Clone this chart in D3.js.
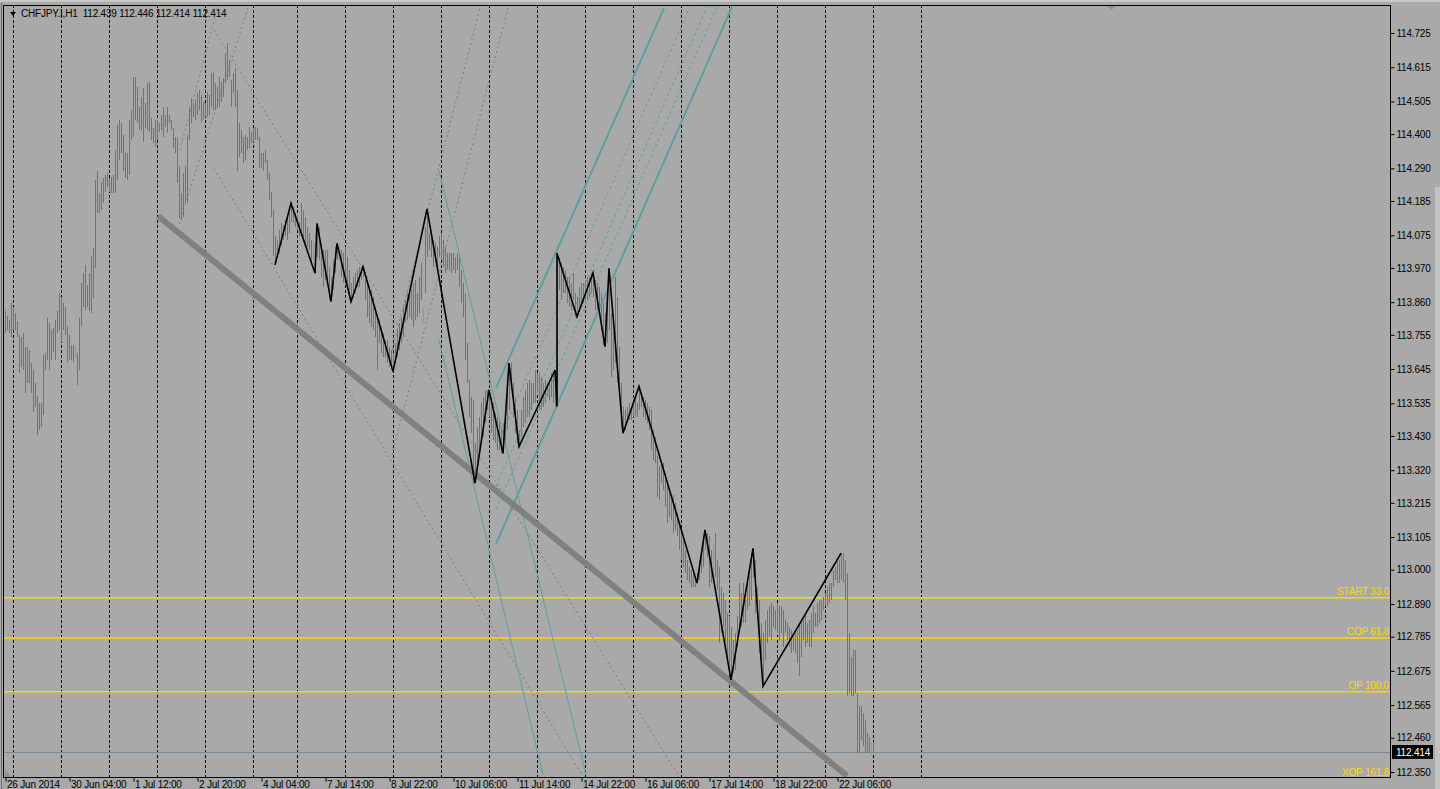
<!DOCTYPE html>
<html>
<head>
<meta charset="utf-8">
<title>CHFJPY.I,H1</title>
<script src="https://d3js.org/d3.v7.min.js"></script>
<style>
    body { margin: 0; background: #a9a9a9; overflow: hidden; }
    text { font-family: "Liberation Sans", Arial, sans-serif; font-size: 10px; letter-spacing: -0.2px; }
</style>
</head>
<body>
<div id="chart"></div>
<script>
// ---- data: H1 bars (high / low), index 0 = 26 Jun 2014 20:00 ----
const highs = [
    113.830, 113.814, 113.803, 113.856, 113.846, 113.824, 113.798, 113.755, 113.749, 113.760,
    113.717, 113.717, 113.706, 113.664, 113.642, 113.599, 113.557, 113.535, 113.535, 113.690,
    113.696, 113.808, 113.792, 113.771, 113.776, 113.803, 113.830, 113.889, 113.878, 113.856,
    113.846, 113.782, 113.755, 113.723, 113.723, 113.717, 113.696, 113.808, 113.921, 113.953,
    113.980, 113.915, 113.953, 114.007, 114.033, 114.253, 114.280, 114.210, 114.247, 114.258,
    114.269, 114.274, 114.258, 114.263, 114.269, 114.349, 114.430, 114.446, 114.435, 114.397,
    114.344, 114.338, 114.446, 114.478, 114.585, 114.585, 114.553, 114.488, 114.520, 114.547,
    114.499, 114.563, 114.569, 114.451, 114.419, 114.446, 114.446, 114.435, 114.462, 114.488,
    114.462, 114.488, 114.462, 114.446, 114.419, 114.392, 114.387, 114.296, 114.210, 114.274,
    114.296, 114.397, 114.488, 114.515, 114.499, 114.510, 114.531, 114.542, 114.526, 114.504,
    114.499, 114.536, 114.526, 114.595, 114.601, 114.563, 114.553, 114.585, 114.569, 114.579,
    114.660, 114.692, 114.638, 114.574, 114.595, 114.611, 114.542, 114.435, 114.414, 114.392,
    114.397, 114.392, 114.424, 114.408, 114.419, 114.424, 114.419, 114.392, 114.338, 114.338,
    114.349, 114.317, 114.274, 114.215, 114.156, 114.071, 114.060, 114.092, 114.113, 114.108,
    114.124, 114.140, 114.151, 114.178, 114.167, 114.146, 114.140, 114.119,
    114.178, 114.156, 114.135, 114.103, 114.081, 114.060, 114.049, 114.028, 114.113, 114.103,
    114.049, 114.028, 114.028, 114.028, 113.974, 113.942, 113.996, 114.038, 114.049, 114.049,
    114.028, 114.017, 114.038, 114.006, 113.963, 113.921, 113.942, 113.953, 113.963, 113.974,
    113.974, 113.974, 113.953, 113.931, 113.910, 113.899, 113.878, 113.846, 113.813, 113.803,
    113.781, 113.760, 113.739, 113.739, 113.717, 113.706, 113.696, 113.728, 113.771, 113.792,
    113.813, 113.846, 113.867, 113.888, 113.899, 113.899, 113.921, 113.931, 113.888, 113.942,
    113.985, 113.846, 114.103, 114.160, 114.081, 114.071, 114.060, 114.049, 114.038, 114.071,
    114.081, 114.060, 114.038, 114.017, 114.017, 114.017, 114.017, 114.006, 114.017, 114.006,
    113.963, 113.921, 113.888, 113.728, 113.610, 113.556, 113.546, 113.407, 113.460, 113.492,
    113.535, 113.556, 113.578, 113.578, 113.578, 113.556, 113.535, 113.503, 113.492, 113.481,
    113.460, 113.471, 113.492, 113.599, 113.664, 113.664, 113.599, 113.556, 113.514, 113.449,
    113.514, 113.556, 113.578, 113.599, 113.610, 113.599, 113.599, 113.642, 113.631, 113.631,
    113.621, 113.599, 113.610, 113.599, 113.610, 113.631, 113.631, 113.642, 114.017, 114.006,
    113.985, 113.974, 113.963, 113.942, 113.942, 113.921, 113.953, 113.888, 113.878, 113.910,
    113.921, 113.921, 113.931, 113.942, 113.942, 113.953, 113.954, 113.931, 113.921,
    113.910, 113.889, 113.856, 113.824, 113.899, 113.969, 113.824, 113.760, 113.942, 113.878,
    113.717, 113.599, 113.524, 113.514, 113.524, 113.535, 113.524, 113.546, 113.556, 113.535,
    113.589, 113.567, 113.556, 113.546, 113.535, 113.524, 113.514, 113.449, 113.428, 113.364,
    113.332, 113.342, 113.342, 113.310, 113.278, 113.246, 113.235, 113.240, 113.214,
    113.182, 113.150, 113.117, 113.096, 113.064, 113.032, 113.010, 113.000, 112.989, 112.978,
    112.989, 113.032, 113.053, 113.096, 113.128, 113.117, 113.107, 113.064, 113.080, 113.117,
    113.032, 113.010, 112.946, 112.925, 112.903, 112.860, 112.850, 112.817, 112.775, 112.796,
    112.850, 112.957, 112.925, 112.957, 112.903, 112.967, 113.010, 113.053, 113.069, 113.032,
    112.946, 112.903, 112.828, 112.796, 112.839, 112.871, 112.882, 112.892, 112.882, 112.871,
    112.892, 112.882, 112.882, 112.871, 112.839, 112.828, 112.817, 112.807, 112.785, 112.796,
    112.807, 112.828, 112.828, 112.839, 112.850, 112.828, 112.839, 112.860, 112.882, 112.860,
    112.892, 112.903, 112.903, 112.914, 112.925, 112.946, 112.957, 112.957, 113.000, 113.010,
    113.032, 113.032, 113.053, 113.053, 113.032, 112.989, 112.796, 112.721, 112.743, 112.743,
    112.604, 112.561, 112.561, 112.539, 112.518, 112.475, 112.464, 112.443, 112.446
];
const lows = [
    113.760, 113.771, 113.760, 113.749, 113.771, 113.771, 113.749, 113.631, 113.653, 113.642,
    113.567, 113.599, 113.599, 113.567, 113.508, 113.524, 113.433, 113.449, 113.460, 113.498,
    113.642, 113.674, 113.642, 113.674, 113.701, 113.674, 113.760, 113.771, 113.733, 113.771,
    113.755, 113.669, 113.674, 113.674, 113.669, 113.680, 113.594, 113.642, 113.782, 113.846,
    113.835, 113.846, 113.830, 113.824, 113.873, 113.969, 114.146, 114.146, 114.156, 114.178,
    114.215, 114.231, 114.215, 114.210, 114.210, 114.210, 114.253, 114.317, 114.338, 114.280,
    114.258, 114.253, 114.269, 114.381, 114.392, 114.446, 114.435, 114.414, 114.414, 114.376,
    114.419, 114.414, 114.408, 114.381, 114.370, 114.360, 114.381, 114.408, 114.414, 114.392,
    114.424, 114.403, 114.435, 114.414, 114.354, 114.338, 114.242, 114.130, 114.124, 114.135,
    114.178, 114.178, 114.381, 114.435, 114.456, 114.446, 114.462, 114.478, 114.440, 114.446,
    114.456, 114.456, 114.462, 114.488, 114.478, 114.478, 114.483, 114.488, 114.504, 114.520,
    114.563, 114.574, 114.585, 114.488, 114.531, 114.488, 114.280, 114.328, 114.338, 114.306,
    114.317, 114.349, 114.354, 114.370, 114.376, 114.381, 114.381, 114.290, 114.290, 114.280,
    114.306, 114.253, 114.188, 114.135, 114.007, 113.980, 114.017, 114.017, 114.039, 114.060,
    114.071, 114.060, 114.081, 114.119, 114.113, 114.103, 114.092, 114.071,
    114.081, 114.060, 114.049, 114.038, 114.028, 113.985, 113.996, 113.953, 114.006, 113.996,
    113.942, 113.910, 113.931, 113.921, 113.867, 113.862, 113.899, 113.953, 113.996, 113.996,
    113.942, 113.921, 113.942, 113.899, 113.878, 113.862, 113.878, 113.888, 113.910, 113.910,
    113.931, 113.942, 113.867, 113.813, 113.792, 113.781, 113.771, 113.749, 113.642, 113.728,
    113.696, 113.685, 113.685, 113.664, 113.653, 113.653, 113.637, 113.664, 113.685, 113.706,
    113.728, 113.749, 113.792, 113.803, 113.813, 113.803, 113.781, 113.803, 113.813, 113.824,
    113.867, 113.792, 113.888, 114.006, 114.028, 114.006, 113.974, 113.996, 113.963, 114.006,
    113.996, 113.974, 113.953, 113.963, 113.963, 113.953, 113.963, 113.953, 113.963, 113.910,
    113.856, 113.813, 113.674, 113.599, 113.492, 113.439, 113.278, 113.278, 113.321, 113.385,
    113.407, 113.428, 113.471, 113.514, 113.492, 113.439, 113.417, 113.407, 113.385, 113.385,
    113.374, 113.374, 113.407, 113.449, 113.514, 113.578, 113.492, 113.439, 113.407, 113.396,
    113.428, 113.460, 113.471, 113.492, 113.492, 113.514, 113.535, 113.535, 113.567, 113.514,
    113.514, 113.524, 113.535, 113.556, 113.546, 113.556, 113.535, 113.514, 113.524, 113.899,
    113.867, 113.888, 113.888, 113.856, 113.846, 113.835, 113.867, 113.813, 113.813, 113.835,
    113.846, 113.856, 113.856, 113.867, 113.878, 113.888, 113.878, 113.835, 113.835,
    113.846, 113.771, 113.723, 113.717, 113.728, 113.771, 113.621, 113.642, 113.664, 113.599,
    113.578, 113.460, 113.439, 113.449, 113.471, 113.482, 113.482, 113.492, 113.492, 113.492,
    113.514, 113.524, 113.492, 113.482, 113.471, 113.449, 113.385, 113.353, 113.342, 113.235,
    113.224, 113.278, 113.257, 113.203, 113.150, 113.171, 113.160, 113.118, 113.128,
    113.107, 113.064, 113.032, 113.010, 112.989, 112.967, 112.957, 112.946, 112.946, 112.946,
    112.957, 112.967, 112.989, 113.010, 113.064, 113.042, 112.946, 112.957, 112.983, 112.978,
    112.935, 112.764, 112.796, 112.817, 112.753, 112.710, 112.667, 112.646, 112.667, 112.678,
    112.753, 112.817, 112.817, 112.828, 112.828, 112.871, 112.882, 112.903, 112.978, 112.860,
    112.839, 112.732, 112.689, 112.625, 112.710, 112.764, 112.785, 112.775, 112.817, 112.807,
    112.796, 112.775, 112.796, 112.753, 112.796, 112.775, 112.753, 112.732, 112.743, 112.732,
    112.700, 112.657, 112.721, 112.775, 112.753, 112.764, 112.753, 112.753, 112.796, 112.817,
    112.817, 112.828, 112.839, 112.871, 112.882, 112.882, 112.892, 112.903, 112.946, 112.967,
    112.957, 112.957, 112.967, 112.957, 112.903, 112.593, 112.604, 112.593, 112.593, 112.604,
    112.411, 112.411, 112.454, 112.432, 112.411, 112.411, 112.411, 112.405, 112.414
];
const greenBars = [35, 154, 167, 209, 354, 433];

// zigzag turning points (bar index, price)
const zzBars = [135, 143, 155, 156, 163, 166, 173, 179, 194, 211, 235, 242, 249, 252, 257,
    275, 276, 276, 286, 294, 300, 302, 309, 317, 346, 350, 363, 374, 379, 418];
const zzPrices = [113.980, 114.178, 113.953, 114.113, 113.862, 114.049, 113.862, 113.974, 113.637, 114.160,
    113.278, 113.578, 113.374, 113.664, 113.396, 113.642, 113.524, 114.017, 113.813, 113.954,
    113.717, 113.969, 113.439, 113.589, 112.957, 113.128, 112.646, 113.069, 112.625, 113.053];

// drawn objects: [bar1, price1, bar2, price2]
const trendLine = [76.5, 114.137, 421, 112.3375];
const tealThin = [[217, 114.282, 290.5, 112.341], [217, 113.739, 269, 112.341]];
const tealChannel = [[245.5, 113.584, 329.5, 114.805], [245.5, 113.083, 363.5, 114.809]];
const tealDashed = [[245.5, 113.395, 342.5, 114.809], [245.5, 113.269, 351, 114.809], [245.5, 113.195, 356, 114.809]];
const grayDashed = [
    [87, 114.111, 121.5, 114.805], [87.5, 114.349, 106.5, 114.812],
    [104.5, 114.735, 336.5, 112.341], [104.5, 114.288, 288.5, 112.341],
    [193.5, 113.369, 251.5, 114.805], [193.5, 113.706, 237.5, 114.805]
];

// horizontal levels
const levelNames = ["START 33.0", "COP 61.8", "OP 100.0", "XOP 161.8"];
const levelPrices = [112.910, 112.781, 112.608, 112.328];
const lastPrice = 112.414;

// day separators and axis ticks
const sepBars = [4, 28, 52, 76, 100, 124, 146, 170, 194, 218, 242, 266, 290, 314, 338, 362, 386, 410, 434, 458];
const xTickBars = [0, 32, 64, 96, 128, 160, 192, 224, 256, 288, 320, 352, 384, 416];
const xTickLabels = ["26 Jun 2014", "30 Jun 04:00", "1 Jul 12:00", "2 Jul 20:00", "4 Jul 04:00", "7 Jul 14:00",
    "8 Jul 22:00", "10 Jul 06:00", "11 Jul 14:00", "14 Jul 22:00", "16 Jul 06:00", "17 Jul 14:00",
    "18 Jul 22:00", "22 Jul 06:00"];
const yTicks = [114.725, 114.615, 114.505, 114.400, 114.290, 114.185, 114.075, 113.970, 113.860, 113.755,
    113.645, 113.535, 113.430, 113.320, 113.215, 113.105, 113.000, 112.890, 112.785, 112.675,
    112.565, 112.460, 112.350];

// ---- layout ----
let width = 1440;
let height = 789;
let plotL = 4, plotR = 1390, plotT = 5, plotB = 777;

let svg = d3.select("#chart")
    .append("svg")
    .attr("width", width)
    .attr("height", height);

svg.append("rect").attr("width", width).attr("height", height).attr("fill", "#a9a9a9");

let xScale = d3.scaleLinear().domain([0, 434]).range([5, 873]);
let yScale = d3.scaleLinear().domain([112.350, 114.725]).range([772, 33]);

svg.append("clipPath").attr("id", "plot-clip")
    .append("rect")
    .attr("x", plotL).attr("y", plotT)
    .attr("width", plotR - plotL).attr("height", plotB - plotT);

let plot = svg.append("g").attr("clip-path", "url(#plot-clip)");

// day separators
plot.selectAll("line.sep")
    .data(sepBars)
    .enter()
    .append("line")
    .attr("x1", d => xScale(d) + 0.5)
    .attr("x2", d => xScale(d) + 0.5)
    .attr("y1", plotT)
    .attr("y2", plotB)
    .attr("stroke", "#000")
    .attr("stroke-dasharray", "3,2");

// current price line
plot.append("line")
    .attr("x1", plotL).attr("x2", plotR)
    .attr("y1", Math.round(yScale(lastPrice)) + 0.5)
    .attr("y2", Math.round(yScale(lastPrice)) + 0.5)
    .attr("stroke", "#778899");

// yellow levels
plot.selectAll("line.level")
    .data(levelPrices)
    .enter()
    .append("line")
    .attr("x1", plotL).attr("x2", plotR)
    .attr("y1", d => yScale(d))
    .attr("y2", d => yScale(d))
    .attr("stroke", "#ffd700")
    .attr("stroke-width", 1.5);

plot.selectAll("text.level")
    .data(levelPrices)
    .enter()
    .append("text")
    .attr("x", plotR - 1)
    .attr("y", d => yScale(d) - 3)
    .attr("text-anchor", "end")
    .attr("fill", "#ffd700")
    .text((d, i) => levelNames[i]);

// helper for two-point objects
function drawSegments(data, stroke, w, dash) {
    plot.append("g")
        .selectAll("line")
        .data(data)
        .enter()
        .append("line")
        .attr("x1", d => xScale(d[0]))
        .attr("y1", d => yScale(d[1]))
        .attr("x2", d => xScale(d[2]))
        .attr("y2", d => yScale(d[3]))
        .attr("stroke", stroke)
        .attr("stroke-width", w)
        .attr("stroke-dasharray", dash);
}

drawSegments(grayDashed, "#7d7d7d", 1, "2,3");

// bars
plot.selectAll("line.bar")
    .data(d3.range(highs.length))
    .enter()
    .append("line")
    .attr("x1", i => xScale(i) + 0.5)
    .attr("x2", i => xScale(i) + 0.5)
    .attr("y1", i => yScale(highs[i]))
    .attr("y2", i => yScale(lows[i]))
    .attr("stroke", i => greenBars.includes(i) ? "#00ff00" : "#727272")
    .attr("stroke-width", 1)
    .attr("shape-rendering", "crispEdges");

drawSegments(tealDashed, "#5f9ea0", 1, "3,3");
drawSegments(tealThin, "#5f9ea0", 1, null);
drawSegments(tealChannel, "#5f9ea0", 2, null);
drawSegments([trendLine], "#808080", 6, null);

// zigzag
let zz = d3.line()
    .x((d, i) => xScale(zzBars[i]))
    .y((d, i) => yScale(zzPrices[i]));
plot.append("path")
    .attr("d", zz(zzBars))
    .attr("fill", "none")
    .attr("stroke", "#000")
    .attr("stroke-width", 1.6);

// chart shift marker and corner marker
svg.append("path").attr("d", "M1106,5L1117,5L1111.5,10Z").attr("fill", "#7f93a8");
svg.append("path").attr("d", "M5,770L5,777L11,777Z").attr("fill", "#7f93a8");

// frame
svg.append("line").attr("x1", 0).attr("x2", width).attr("y1", 1).attr("y2", 1)
    .attr("stroke", "#c8c8c8").attr("stroke-width", 2);
svg.append("line").attr("x1", 1.5).attr("x2", 1.5).attr("y1", 3).attr("y2", height)
    .attr("stroke", "#6e6e6e");
svg.append("rect")
    .attr("x", plotL - 0.5).attr("y", plotT + 0.5)
    .attr("width", plotR - plotL + 1).attr("height", plotB - plotT)
    .attr("fill", "none").attr("stroke", "#000");
svg.append("rect").attr("x", 1435).attr("y", 187).attr("width", 5).attr("height", height - 187)
    .attr("fill", "#c2c2c2");

// price axis
let yAxis = d3.axisRight(yScale)
    .tickValues(yTicks)
    .tickSize(4)
    .tickFormat(d3.format(".3f"));
let gy = svg.append("g")
    .attr("transform", "translate(" + (plotR + 0.5) + ",0)")
    .call(yAxis);
gy.select(".domain").remove();
gy.selectAll("line").attr("stroke", "#000");
gy.selectAll("text").attr("fill", "#000").attr("x", 6);
gy.attr("font-family", null).attr("font-size", null);

// last price box
svg.append("rect")
    .attr("x", 1392).attr("y", Math.round(yScale(lastPrice)) - 7)
    .attr("width", 41).attr("height", 14)
    .attr("fill", "#000");
svg.append("text")
    .attr("x", 1396).attr("y", yScale(lastPrice) + 3.5)
    .attr("fill", "#fff")
    .text(d3.format(".3f")(lastPrice));

// time axis
let xAxis = d3.axisBottom(xScale)
    .tickValues(xTickBars)
    .tickSize(4)
    .tickFormat((d, i) => xTickLabels[i]);
let gx = svg.append("g")
    .attr("transform", "translate(0.5," + (plotB + 0.5) + ")")
    .call(xAxis);
gx.select(".domain").remove();
gx.selectAll("line").attr("stroke", "#000");
gx.selectAll("text")
    .attr("fill", "#000")
    .attr("text-anchor", "start")
    .attr("x", 1)
    .attr("y", 10.5)
    .attr("dy", null);
gx.attr("font-family", null).attr("font-size", null);

// header
svg.append("path").attr("d", "M10,12L16,12L13,16Z").attr("fill", "#000");
svg.append("text")
    .attr("x", 21).attr("y", 17)
    .attr("fill", "#000")
    .text("CHFJPY.I,H1\u00a0 112.439 112.446 112.414 112.414");
</script>
</body>
</html>
